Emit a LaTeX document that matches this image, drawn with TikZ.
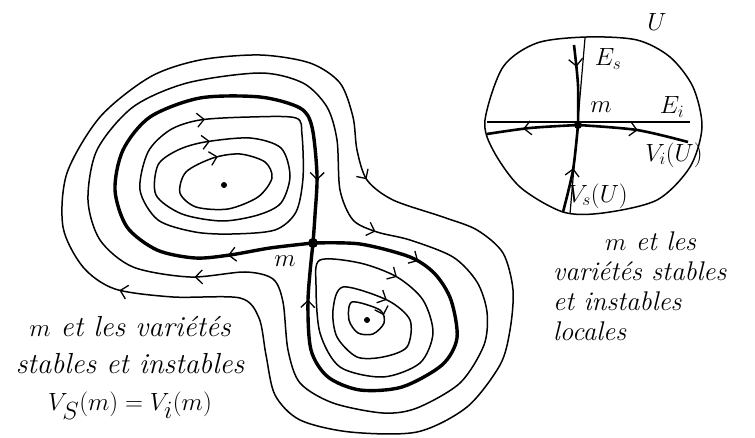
\documentclass[tikz,border=0pt]{standalone}
\usepackage{amsmath}
\usepackage{fontspec}
\usepackage{tikz}
\usetikzlibrary{arrows.meta,decorations.markings}

\tikzset{
  orbite/.style={line width=1.5pt, line join=round, line cap=round},
  separatrice/.style={line width=3.4pt, line join=round, line cap=round},
  fleche/.style={postaction={decorate, decoration={markings,
      mark=at position #1 with {\arrow[line width=1.3pt]{Straight Barb[length=7pt,width=14pt]}}}}},
  point/.style={circle, fill, inner sep=0pt, minimum size=#1},
  etiquette/.style={font=\fontsize{23}{26}\selectfont, inner sep=0pt},
  texte/.style={font=\itshape\fontsize{29}{37}\selectfont, inner sep=0pt},
}

\begin{document}
\begin{tikzpicture}[x=1pt,y=-1pt]
\useasboundingbox (0,0) rectangle (755,438);
% Courbes exterieures
\draw[orbite, fleche=188pt, fleche=955pt] plot[smooth cycle] coordinates {(200,60) (260,55) (310,63) (340,83) (353,117) (357,150) (367,180) (393,200) (443,217) (477,230) (503,253) (513,290) (510,330) (500,365) (467,407) (417,432) (350,432) (300,420) (275,395) (266,355) (259,318) (240,298) (173,297) (115,289) (83,267) (63,227) (67,173) (100,117) (150,77)};
\draw[orbite, fleche=222pt, fleche=813pt] plot[smooth cycle] coordinates {(187,83) (260,73) (303,83) (327,107) (337,140) (340,190) (353,220) (377,232) (410,240) (453,257) (477,282) (487,312) (484,345) (460,383) (417,408) (383,413) (333,403) (300,383) (288,350) (283,302) (273,279) (245,272) (190,277) (133,267) (100,240) (88,200) (97,150) (133,107)};
% Separatrices (boucles homoclines)
\draw[separatrice, fleche=86pt, fleche=552pt] plot[smooth] coordinates {(313,243) (270,248) (230,255) (195,258) (157,250) (127,227) (115,190) (123,150) (150,117) (200,98) (260,97) (300,108) (312,127) (317,175) (315,215) (313,243)};
\draw[separatrice, fleche=108pt, fleche=436pt] plot[smooth] coordinates {(313,243) (360,244) (410,257) (435,274) (451,300) (457,338) (442,365) (402,387) (360,390) (328,377) (311,350) (308,300) (313,243)};
% Orbites en haut a gauche
\draw[orbite, fleche=5pt] plot[smooth cycle] coordinates {(186,172) (213,158) (240,154) (265,162) (272,178) (258,197) (228,209) (196,207) (180,193)};
\draw[orbite, fleche=5pt] plot[smooth cycle] coordinates {(178,150) (205,142) (250,138) (281,148) (290,176) (281,203) (258,215) (222,221) (182,214) (156,195) (158,165)};
\draw[orbite, fleche=5pt] plot[smooth cycle] coordinates {(170,130) (200,120) (250,117) (296,118) (302,135) (303,178) (296,212) (275,230) (232,234) (195,232) (158,220) (140,190) (148,152)};
% Orbites en bas a droite
\draw[orbite, fleche=80pt] plot[smooth cycle] coordinates {(316,285) (320,260) (360,263) (397,277) (423,300) (433,333) (420,363) (383,377) (340,367) (320,333)};
\draw[orbite, fleche=46pt] plot[smooth cycle] coordinates {(333,310) (343,287) (387,300) (410,320) (407,347) (383,357) (357,357) (337,337)};
\draw[orbite, fleche=36pt] plot[smooth cycle] coordinates {(349,320) (352,302) (380,310) (384,323) (373,334) (358,333)};
% Points
\node[point=10pt] (m) at (313,243) {};
\node[point=6pt] (c1) at (224,185) {};
\node[point=6pt] (c2) at (367,320) {};
\node[etiquette] (mlabel) at (285,261) {$m$};
% Voisinage U
\draw[orbite] plot[smooth cycle] coordinates {(485,120) (493,150) (520,187) (563,212) (603,213) (657,200) (690,167) (702,127) (693,87) (670,57) (637,40) (587,37) (537,43) (503,67)};
\node[point=8pt] (mU) at (578,125) {};
\draw[line width=1.2pt] (585,38) -- (570,214); % E_s
\draw[line width=1.2pt] (487,122) -- (690,122); % E_i
\draw[line width=2.6pt, fleche=22pt] plot[smooth] coordinates {(574,45) (578,85) (578,125)};
\draw[line width=2.6pt, fleche=45pt] plot[smooth] coordinates {(563,212) (573,170) (578,125)};
\draw[line width=2.6pt, fleche=55pt] plot[smooth] coordinates {(578,125) (530,128) (487,134)};
\draw[line width=2.6pt, fleche=60pt] plot[smooth] coordinates {(578,125) (637,130) (688,142)};
\node[etiquette] (Es) at (608,59) {$E_s$};
\node[etiquette] (Ei) at (672,107) {$E_i$};
\node[etiquette] (mUlabel) at (601,107) {$m$};
\node[etiquette] (ViU) at (674,155) {$V_i(U)$};
\node[etiquette] (VsU) at (598,196) {$V_s(U)$};
\node[etiquette, font=\fontsize{50}{52}\selectfont] (U) at (657,22) {$U$};
% Textes
\node[texte, align=center] (legende) at (130,368) {$m$ et les variétés\\stables et instables\\{\fontsize{36}{37}\selectfont$V_S(m)=V_i(m)$}};
\node[texte, font=\itshape\fontsize{27}{30}\selectfont, align=left, anchor=west] (legendeU) at (553,286) {\hspace*{52pt}$m$ et les\\variétés stables\\et instables\\locales};
\end{tikzpicture}
\end{document}
